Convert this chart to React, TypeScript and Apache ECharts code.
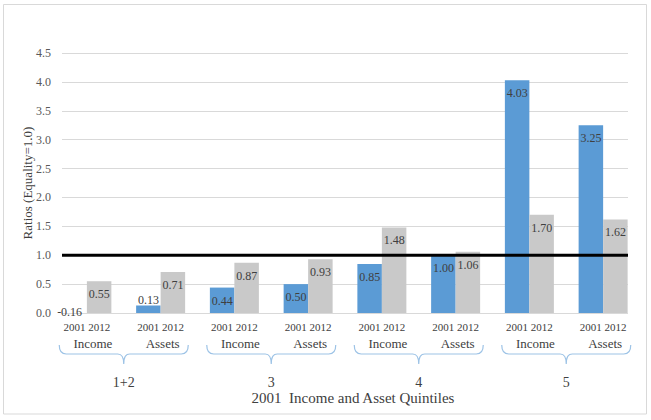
import React, { useEffect, useRef } from "react";
import * as echarts from "echarts";

const groups = ["Income", "Assets", "Income", "Assets", "Income", "Assets", "Income", "Assets"];
const quintiles = ["1+2", "3", "4", "5"];
const years = ["2001", "2012"];
const values2001 = [-0.16, 0.13, 0.44, 0.5, 0.85, 1.0, 4.03, 3.25];
const values2012 = [0.55, 0.71, 0.87, 0.93, 1.48, 1.06, 1.7, 1.62];
const equality = 1.0;
const yTicks = [0, 0.5, 1, 1.5, 2, 2.5, 3, 3.5, 4, 4.5];

const BRACE_D =
  "M0,0 C0,6 2,9 7,9 L58.5,9 C62,9 64.5,11 64.5,19 C64.5,11 67,9 70.5,9 L122,9 C127,9 129,6 129,0";
echarts.graphic.registerShape("brace", echarts.graphic.extendPath(BRACE_D, {}) as any);

const FONT = "'Liberation Serif', 'Times New Roman', 'DejaVu Serif', serif";
const TEXT = "#404040";

export default function App() {
  const ref = useRef<HTMLDivElement>(null);

  useEffect(() => {
    if (!ref.current) return;
    const chart = echarts.init(ref.current, null, { renderer: "svg" });

    const barLabel = {
      show: true,
      position: "insideTop",
      distance: 7,
      fontFamily: FONT,
      fontSize: 12,
      color: TEXT,
      formatter: (p: any) => Number(p.value).toFixed(2),
    };

    const data2001 = values2001.map((v) => {
      if (v < 0) {
        return {
          value: v,
          itemStyle: { color: "rgba(0,0,0,0)" },
          label: { position: "insideTop", distance: -7, offset: [-5, 0] },
        };
      }
      if (v < 0.3) {
        return { value: v, label: { position: "top", distance: -1 } };
      }
      return v;
    });

    const option: any = {
      animation: false,
      backgroundColor: "#ffffff",
      textStyle: { fontFamily: FONT },
      grid: [
        { left: 62, top: 53, width: 566, height: 260 },
        { left: 50, top: 53, width: 590, height: 260 },
      ],
      xAxis: [
        {
          gridIndex: 1,
          type: "category",
          position: "bottom",
          data: groups,
          axisLine: { show: false },
          axisTick: { show: false },
          axisLabel: {
            interval: 0,
            margin: 8,
            fontFamily: FONT,
            fontSize: 11,
            color: TEXT,
            formatter: () => years.join(" "),
          },
        },
        {
          gridIndex: 1,
          type: "category",
          position: "bottom",
          offset: 0,
          data: groups,
          axisLine: { show: false },
          axisTick: { show: false },
          axisLabel: {
            interval: 0,
            margin: 24,
            fontFamily: FONT,
            fontSize: 13,
            color: TEXT,
            formatter: (v: string) => (v === "Income" ? `{inc|${v}}` : `{ass|${v}}`),
            rich: {
              inc: { fontFamily: FONT, fontSize: 13, color: TEXT, padding: [0, 0, 0, 12] },
              ass: { fontFamily: FONT, fontSize: 13, color: TEXT, padding: [0, 0, 0, 4] },
            },
          },
        },
        {
          gridIndex: 1,
          type: "category",
          position: "bottom",
          offset: 0,
          data: quintiles,
          axisLine: { show: false },
          axisTick: { show: false },
          axisLabel: {
            interval: 0,
            margin: 62,
            fontFamily: FONT,
            fontSize: 14,
            color: TEXT,
          },
          name: "2001  Income and Asset Quintiles",
          nameLocation: "middle",
          nameGap: 77,
          nameMoveOverlap: false,
          nameTextStyle: {
            fontFamily: FONT,
            fontSize: 15,
            color: TEXT,
            padding: [0, 0, 0, 16],
          },
        },
        { gridIndex: 0, type: "value", min: 0, max: 1, show: false },
      ],
      yAxis: [
        {
          gridIndex: 0,
          type: "value",
          min: yTicks[0],
          max: yTicks[yTicks.length - 1],
          interval: 0.5,
          axisLine: { show: false },
          axisTick: { show: false },
          splitLine: { lineStyle: { color: "#d9d9d9", width: 1 } },
          axisLabel: {
            margin: 11,
            fontFamily: FONT,
            fontSize: 12,
            color: "#595959",
            formatter: (v: number) => v.toFixed(1),
          },
          name: "Ratios (Equality=1.0)",
          nameLocation: "middle",
          nameGap: 28,
          nameMoveOverlap: false,
          nameTextStyle: { fontFamily: FONT, fontSize: 13, color: "#404040" },
        },
        {
          gridIndex: 1,
          type: "value",
          min: 0,
          max: 4.5,
          interval: 0.5,
          show: false,
        },
      ],
      series: [
        {
          type: "bar",
          name: years[0],
          xAxisIndex: 0,
          yAxisIndex: 1,
          barWidth: 24.5,
          barGap: "0%",
          clip: false,
          itemStyle: { color: "#5b9bd5" },
          label: barLabel,
          data: data2001,
        },
        {
          type: "bar",
          name: years[1],
          xAxisIndex: 0,
          yAxisIndex: 1,
          barWidth: 24.5,
          barGap: "0%",
          itemStyle: { color: "#c9c9c9" },
          label: barLabel,
          data: values2012,
        },
        {
          type: "line",
          xAxisIndex: 3,
          yAxisIndex: 0,
          symbol: "none",
          z: 10,
          lineStyle: { color: "#000000", width: 3 },
          data: [
            [0, equality],
            [1, equality],
          ],
        },
      ],
    };

    chart.setOption(option);

    const braces = quintiles.map((_, i) => {
      const cx = chart.convertToPixel({ xAxisIndex: 2 }, i) as number;
      return {
        type: "brace",
        x: cx - 64.5,
        y: 345,
        silent: true,
        style: { stroke: "#9dc3e6", lineWidth: 1.2, fill: null },
      };
    });

    chart.setOption({
      graphic: [
        {
          type: "rect",
          shape: { x: 3.5, y: 4.5, width: 643, height: 409.5 },
          style: { stroke: "#d9d9d9", fill: null, lineWidth: 1 },
          silent: true,
          z: -1,
        },
        ...braces,
      ],
    });

    return () => chart.dispose();
  }, []);

  return (
    <div
      ref={ref}
      style={{ position: "absolute", left: 0, top: 0, width: 651, height: 420 }}
    />
  );
}
